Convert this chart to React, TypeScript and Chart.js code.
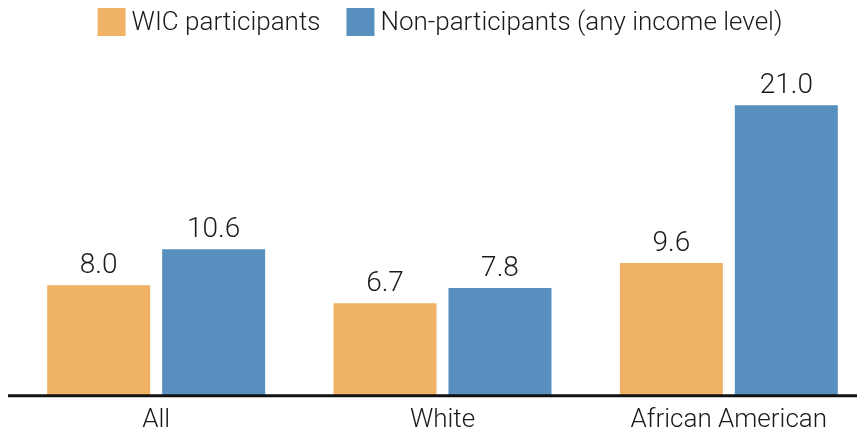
import React, { useEffect, useRef } from "react";
import { Chart, registerables } from "chart.js";

Chart.register(...registerables);

const categories = ["All", "White", "African American"];
const wicValues = [8.0, 6.7, 9.6];
const nonValues = [10.6, 7.8, 21.0];
const seriesNames = ["WIC participants", "Non-participants (any income level)"];

const FONT = "Roboto, sans-serif";
const ORANGE = "#F0B265";
const BLUE = "#5790BF";

const valueLabels = {
  id: "valueLabels",
  afterDatasetsDraw(chart: any) {
    const ctx = chart.ctx;
    ctx.save();
    ctx.font = `300 28px ${FONT}`;
    ctx.fillStyle = "#1a1a1a";
    ctx.textAlign = "center";
    ctx.textBaseline = "bottom";
    chart.data.datasets.forEach((ds: any, i: number) => {
      const meta = chart.getDatasetMeta(i);
      meta.data.forEach((bar: any, j: number) => {
        ctx.fillText(Number(ds.data[j]).toFixed(1), bar.x, bar.y - 5);
      });
    });
    ctx.restore();
  },
};

const axisLine = {
  id: "axisLine",
  afterDatasetsDraw(chart: any) {
    const ctx = chart.ctx;
    const y = chart.chartArea.bottom;
    ctx.save();
    ctx.strokeStyle = "#111";
    ctx.lineWidth = 3;
    ctx.beginPath();
    ctx.moveTo(0, y);
    ctx.lineTo(chart.width, y);
    ctx.stroke();
    ctx.restore();
  },
};

const customLegend = {
  id: "customLegend",
  afterDraw(chart: any) {
    const ctx = chart.ctx;
    ctx.save();
    ctx.font = `300 26px ${FONT}`;
    const box = 28;
    const gap = 6;
    const spacing = 26;
    const items = chart.data.datasets.map((ds: any) => ({
      text: ds.label,
      color: ds.backgroundColor,
      w: ctx.measureText(ds.label).width,
    }));
    const total =
      items.reduce((s: number, it: any) => s + box + gap + it.w, 0) + spacing * (items.length - 1);
    let x = 432 - total / 2;
    const top = 0;
    items.forEach((it: any) => {
      ctx.fillStyle = it.color;
      ctx.fillRect(x, top, box, box);
      ctx.fillStyle = "#1a1a1a";
      ctx.textAlign = "left";
      ctx.textBaseline = "middle";
      ctx.fillText(it.text, x + box + gap, top + box / 2 + 1);
      x += box + gap + it.w + spacing;
    });
    ctx.restore();
  },
};

export default function App() {
  const ref = useRef<HTMLCanvasElement>(null);
  useEffect(() => {
    document.documentElement.style.overflow = "hidden";
    document.body.style.overflow = "hidden";
    const chart = new Chart(ref.current!, {
      type: "bar",
      data: {
        labels: categories,
        datasets: [
          { label: seriesNames[0], data: wicValues, backgroundColor: ORANGE, barPercentage: 0.896, categoryPercentage: 0.803 },
          { label: seriesNames[1], data: nonValues, backgroundColor: BLUE, barPercentage: 0.896, categoryPercentage: 0.803 },
        ],
      },
      options: {
        animation: false,
        responsive: true,
        maintainAspectRatio: false,
        layout: { padding: { left: 5, right: 6, top: 42, bottom: 0 } },
        plugins: {
          legend: { display: false },
          tooltip: { enabled: false },
        },
        scales: {
          x: {
            grid: { display: false, drawTicks: false },
            border: { display: false },
            ticks: { color: "#1a1a1a", padding: 9, font: { family: FONT, size: 26, weight: "300" } },
          },
          y: {
            display: false,
            min: 0,
            max: 25,
          },
        },
      },
      plugins: [valueLabels, axisLine, customLegend],
    });
    return () => chart.destroy();
  }, []);
  return (
    <div style={{ width: 857, overflow: "hidden" }}>
      <div style={{ width: 870, height: 437, position: "relative" }}>
        <canvas ref={ref} />
      </div>
    </div>
  );
}
